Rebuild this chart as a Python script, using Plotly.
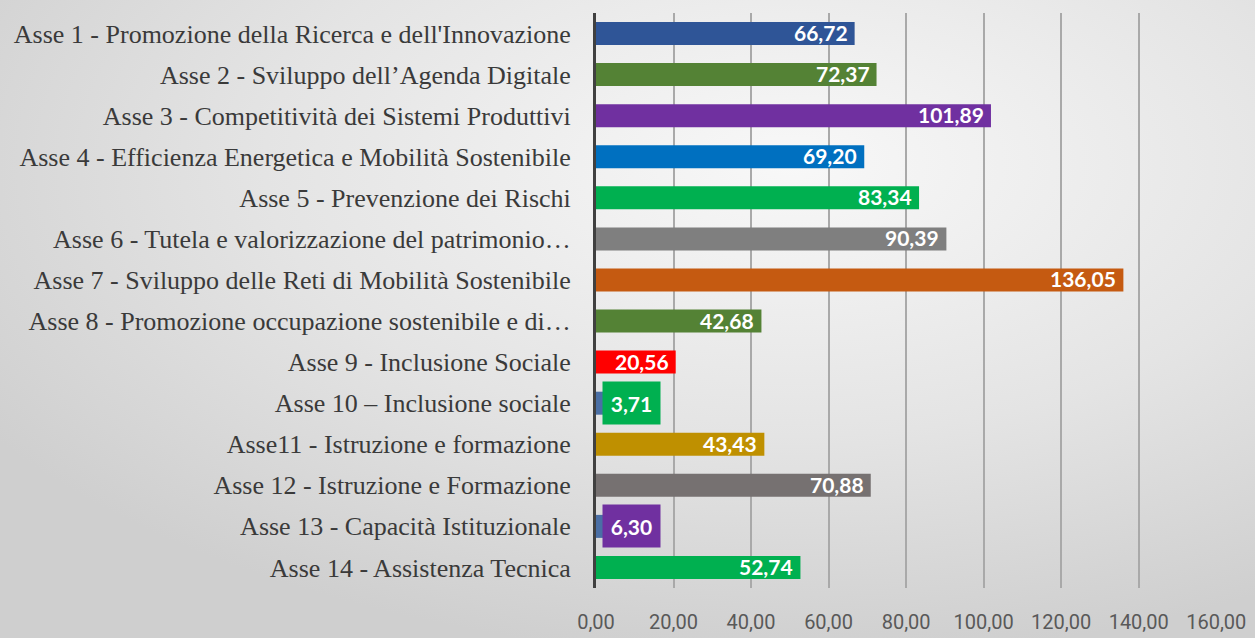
import plotly.graph_objects as go
import urllib.parse

categories = [
    "Asse 1 - Promozione della Ricerca e dell'Innovazione",
    "Asse 2 - Sviluppo dell’Agenda Digitale",
    "Asse 3 - Competitività dei Sistemi Produttivi",
    "Asse 4 - Efficienza Energetica e Mobilità Sostenibile",
    "Asse 5 - Prevenzione dei Rischi",
    "Asse 6 - Tutela e valorizzazione del patrimonio…",
    "Asse 7 - Sviluppo delle Reti di Mobilità Sostenibile",
    "Asse 8 - Promozione occupazione sostenibile e di…",
    "Asse 9 - Inclusione Sociale",
    "Asse 10 – Inclusione sociale",
    "Asse11 - Istruzione e formazione",
    "Asse 12 - Istruzione e Formazione",
    "Asse 13 - Capacità Istituzionale",
    "Asse 14 - Assistenza Tecnica",
]
values = [66.72, 72.37, 101.89, 69.20, 83.34, 90.39, 136.05, 42.68, 20.56, 3.71, 43.43, 70.88, 6.30, 52.74]
bar_colors = ["#2f5597", "#548235", "#7030a0", "#0070c0", "#00b050", "#7f7f7f", "#c55a11",
              "#548235", "#ff0000", "#4a6fa5", "#bf9000", "#767171", "#4a6fa5", "#00b050"]
label_box_colors = [None, None, None, None, None, None, None,
                    None, None, "#00b050", None, None, "#7030a0", None]
tick_vals = [0, 20, 40, 60, 80, 100, 120, 140, 160]
tick_text = ["0,00", "20,00", "40,00", "60,00", "80,00", "100,00", "120,00", "140,00", "160,00"]

W, H = 1255, 638
L, R, T, B = 596, 38, 13, 50

fig = go.Figure()
fig.add_trace(go.Bar(
    y=categories, x=values, orientation="h",
    marker=dict(color=bar_colors, line=dict(width=0)),
    width=0.56, hoverinfo="skip",
))

def fmt(v):
    return f"{v:.2f}".replace(".", ",")

annotations = []
for cat, v, bx in zip(categories, values, label_box_colors):
    if bx is None:
        annotations.append(dict(
            x=v, y=cat, xref="x", yref="y", text=fmt(v), showarrow=False,
            xanchor="right", xshift=-5, yshift=1,
            font=dict(family="Lato", size=21, color="white", weight="bold"),
        ))
    else:
        annotations.append(dict(
            x=0, y=cat, xref="x", yref="y", text=fmt(v), showarrow=False,
            xanchor="left", xshift=6,
            bgcolor=bx, borderpad=5, width=47, height=32, align="center",
            font=dict(family="Lato", size=21, color="white", weight="bold"),
        ))

# background radial gradient as svg image
svg = (
    f'<svg xmlns="http://www.w3.org/2000/svg" width="{W}" height="{H}" viewBox="0 0 {W} {H}" preserveAspectRatio="none">'
    '<defs><radialGradient id="g" cx="0.62" cy="0.25" r="0.75" fx="0.62" fy="0.25">'
    '<stop offset="0" stop-color="#f8f8f8"/>'
    '<stop offset="0.55" stop-color="#e4e4e4"/>'
    '<stop offset="1" stop-color="#cfcfcf"/>'
    '</radialGradient></defs>'
    f'<rect x="0" y="0" width="{W}" height="{H}" fill="url(#g)"/></svg>'
)
src = "data:image/svg+xml;charset=utf-8," + urllib.parse.quote(svg)
pw = W - L - R
ph = H - T - B

fig.update_layout(
    width=W, height=H,
    margin=dict(l=L, r=R, t=T, b=B, pad=0, autoexpand=False),
    paper_bgcolor="#d2d2d2",
    plot_bgcolor="rgba(0,0,0,0)",
    showlegend=False,
    annotations=annotations,
    images=[dict(
        source=src, xref="paper", yref="paper",
        x=-L / pw, y=1 + T / ph, sizex=(W + 20) / pw, sizey=(H + 20) / ph,
        xanchor="left", yanchor="top", sizing="stretch", layer="below",
    )],
    xaxis=dict(
        range=[0, 160.2], tickvals=tick_vals, ticktext=tick_text,
        showgrid=True, gridcolor="#a9a9a9", gridwidth=2,
        zeroline=False, showline=False, ticks="",
        ticklabelstandoff=20, automargin=False,
        tickfont=dict(family="Roboto", size=20, color="#595959"),
        fixedrange=True,
    ),
    yaxis=dict(
        autorange="reversed", showgrid=False, zeroline=False,
        showline=True, linecolor="#404040", linewidth=3,
        ticks="", ticklabelstandoff=17, automargin=False,
        tickfont=dict(family="Liberation Serif", size=26, color="#3a3a3a"),
        fixedrange=True,
    ),
    bargap=0.44,
)

fig.write_html("out.html", config=dict(displayModeBar=False))
